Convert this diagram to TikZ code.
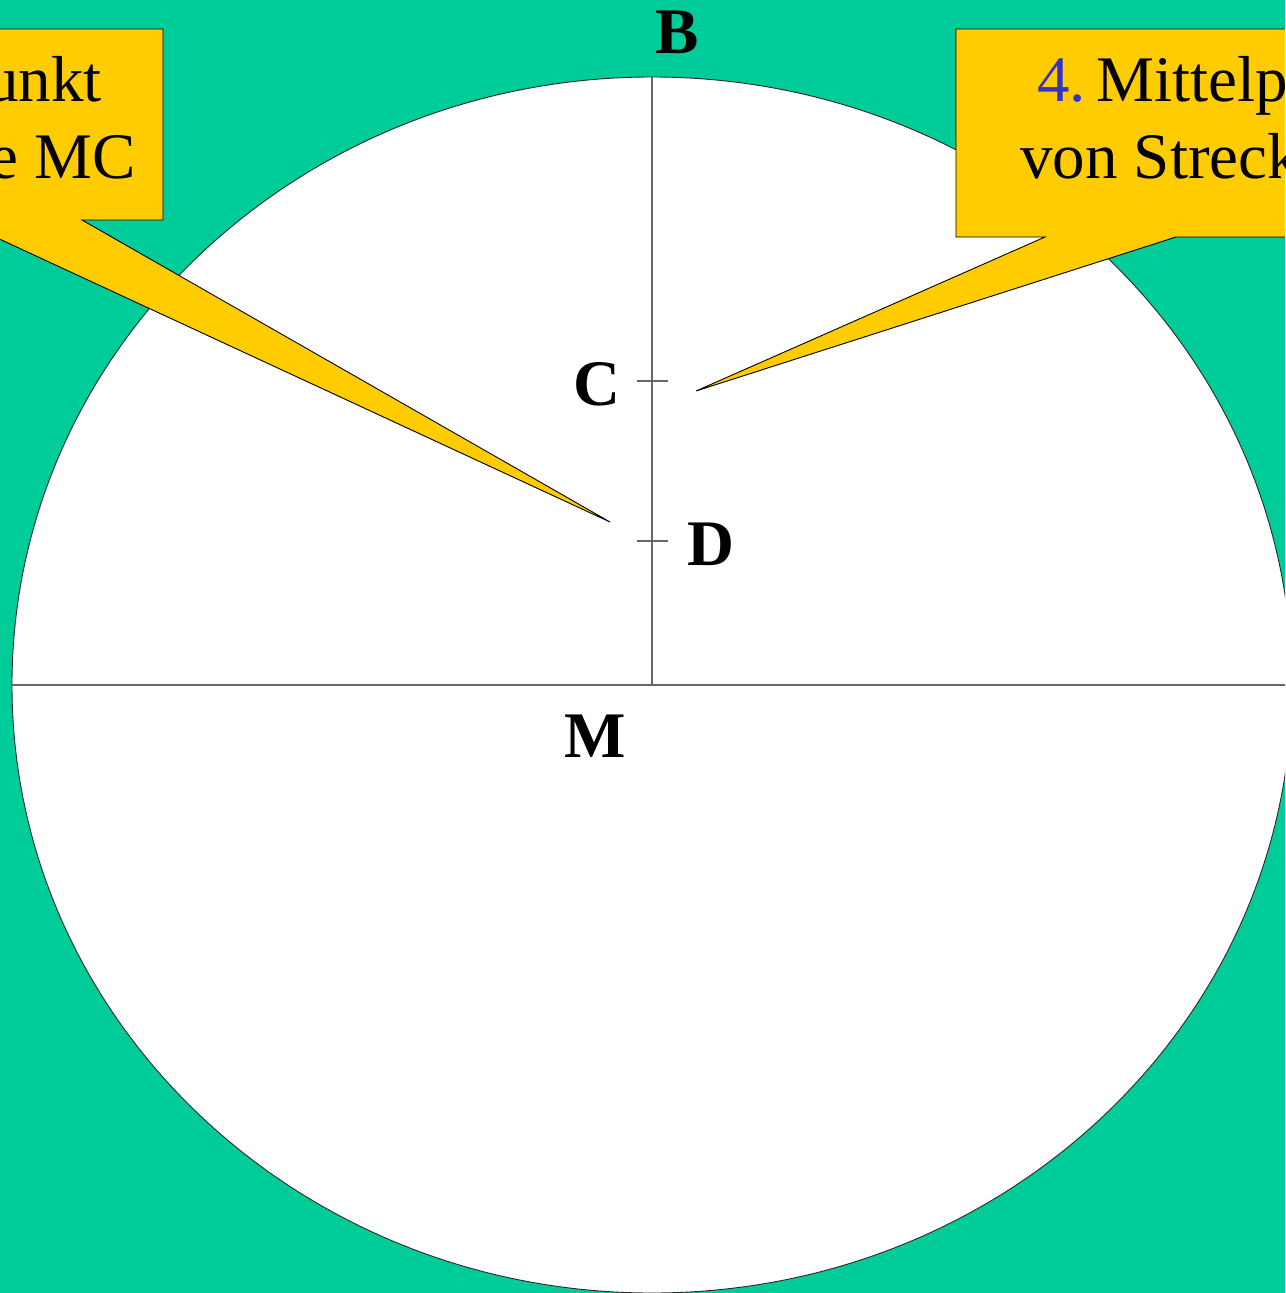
\documentclass[tikz,border=0pt]{standalone}
\usepackage{fontspec}
\setmainfont{Liberation Serif}
\definecolor{bggreen}{HTML}{00CC99}
\definecolor{callyellow}{HTML}{FFCC00}
\definecolor{numblue}{HTML}{3333CC}
\tikzset{
  axisline/.style={draw=black!60, line width=1.1pt},
  callout/.style={fill=callyellow, draw=black, line width=0.9pt, line join=miter},
  ptlabel/.style={anchor=base, inner sep=0pt, font=\fontsize{65}{77}\selectfont\bfseries},
  calltext/.style={inner sep=0pt, font=\fontsize{65}{77}\selectfont}
}
\begin{document}
\begin{tikzpicture}[x=1pt,y=-1pt]
\useasboundingbox (0,0) rectangle (1285,1293);
\clip (0,0) rectangle (1285,1293);
\fill[bggreen] (0,0) rectangle (1285,1293);
% circle
\coordinate (Mc) at (652,685);
\draw[fill=white, draw=black!85, line width=0.9pt] (Mc) ellipse [x radius=640, y radius=608];
% axes
\coordinate (Btop) at (652,77);
\coordinate (Lend) at (12,685);
\coordinate (Rend) at (1300,685);
\draw[axisline] (Lend) -- (Rend);
\draw[axisline] (Mc) -- (Btop);
% ticks
\coordinate (Cl) at (637,381); \coordinate (Cr) at (668,381);
\coordinate (Dl) at (637,541); \coordinate (Dr) at (668,541);
\draw[axisline] (Cl) -- (Cr);
\draw[axisline] (Dl) -- (Dr);
% labels
\node[ptlabel] (labB) at (677,53) {B};
\node[ptlabel] (labC) at (597,405) {C};
\node[ptlabel] (labD) at (711,565) {D};
\node[ptlabel] (labM) at (595,757) {M};
% left callout
\coordinate (tipL) at (610,522);
\draw[callout] (-20,29) -- (163,29) -- (163,220) -- (82,220) -- (tipL) -- (-20,230) -- cycle;
\node[calltext, anchor=base east] (lt1) at (102,101) {unkt};
\node[calltext, anchor=base east] (lt2) at (136,178) {e MC};
% right callout
\coordinate (tipR) at (696,391);
\draw[callout] (956,29) -- (1300,29) -- (1300,237) -- (1176,237) -- (tipR) -- (1045,237) -- (956,237) -- cycle;
\node[calltext, anchor=base west] (rt1) at (1037,101) {\textcolor{numblue}{4.}\hspace{11pt}Mittelp};
\node[calltext, anchor=base west] (rt2) at (1020,178) {von Streck};
\end{tikzpicture}
\end{document}
